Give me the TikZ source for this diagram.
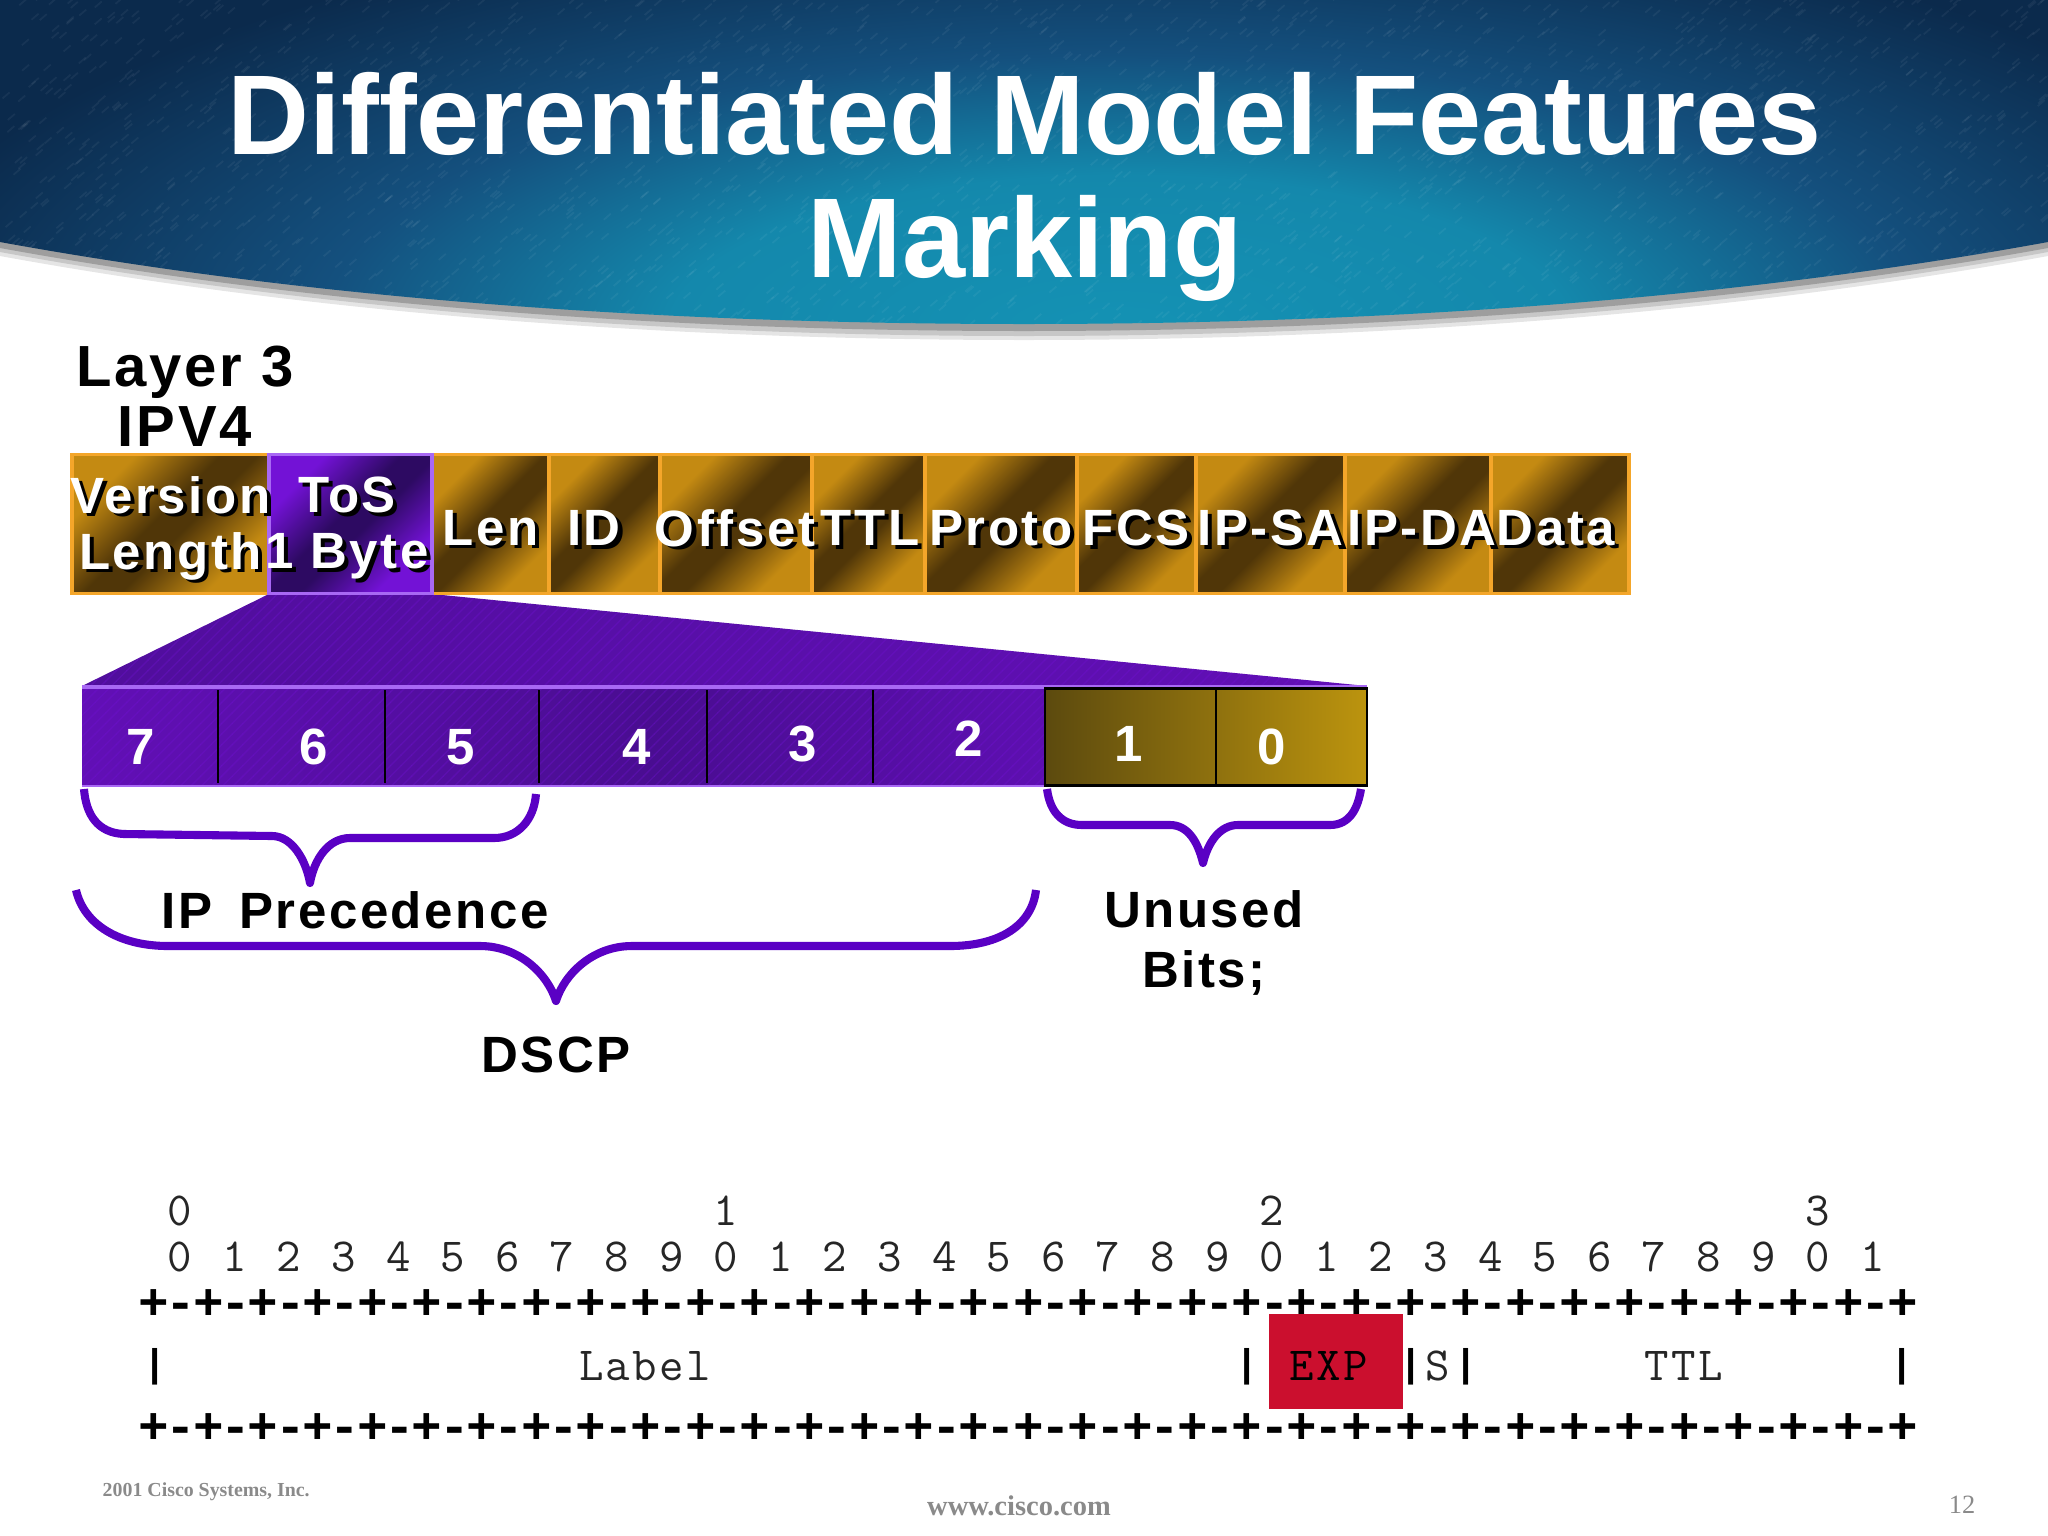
\documentclass[tikz,border=0pt]{standalone}
\usepackage{fontspec}
\usepackage{xcolor}
\usetikzlibrary{patterns}
\setmainfont{Liberation Sans}
\newfontfamily\fieldfont[LetterSpace=5]{Liberation Sans}
\newfontfamily\bitfont[LetterSpace=5]{Latin Modern Mono}
\newfontfamily\digitfont{Latin Modern Mono}
\newfontfamily\ruleffont[LetterSpace=-6.4]{Liberation Mono}
\newfontfamily\pipefont{Liberation Mono}
\newfontfamily\footfont{Liberation Serif}

\definecolor{bannernavy}{HTML}{0B2A4C}
\definecolor{bannermid}{HTML}{14507E}
\definecolor{bannerteal}{HTML}{1492B4}
\definecolor{goldlight}{HTML}{C48A12}
\definecolor{golddark}{HTML}{503608}
\definecolor{goldedge}{HTML}{F4A62A}
\definecolor{oliveleft}{HTML}{5C4A0E}
\definecolor{oliveright}{HTML}{BC940E}
\definecolor{tosbright}{HTML}{7312D6}
\definecolor{tosdark}{HTML}{2D0A62}
\definecolor{tosedge}{HTML}{A868F4}
\definecolor{bracecol}{HTML}{5A00C4}
\definecolor{expred}{HTML}{CB0F2E}
\definecolor{footgrey}{HTML}{8A8A8A}

\pgfdeclareradialshading{bannerglow}{\pgfpointorigin}{
  color(0bp)=(bannerteal); color(4.5bp)=(bannerteal!85!bannermid);
  color(8bp)=(bannermid); color(12.5bp)=(bannernavy); color(100bp)=(bannernavy)}
\pgfdeclarehorizontalshading{goldband}{100bp}{
  color(0bp)=(goldlight); color(28bp)=(goldlight); color(46bp)=(golddark); color(54bp)=(golddark);
  color(72bp)=(goldlight); color(100bp)=(goldlight)}
\pgfdeclarehorizontalshading{tosband}{100bp}{
  color(0bp)=(tosbright); color(28bp)=(tosbright); color(46bp)=(tosdark); color(54bp)=(tosdark);
  color(72bp)=(tosbright); color(100bp)=(tosbright)}
\pgfdeclarehorizontalshading{purplerow}{100bp}{
  color(0bp)=(tosbright); color(25bp)=(tosbright!85!black);
  color(55bp)=(tosdark!60!tosbright); color(85bp)=(tosbright!90!black); color(100bp)=(tosbright)}

\newcommand{\shtxt}[1]{\makebox[0pt]{\hspace{2.4pt}\raisebox{-0.9pt}{\textcolor{black}{#1}}}\makebox[0pt]{\textcolor{white}{#1}}}

\tikzset{
  field/.style={rectangle,draw=goldedge,line width=1pt,inner sep=0pt,shade,shading=goldband,shading angle=-45,
    minimum height=139*0.01cm},
  fieldtxt/.style={inner sep=0pt,align=center,font=\fieldfont\bfseries\fontsize{14.5}{15.9}\selectfont},
  bitnum/.style={inner sep=0pt,font=\fieldfont\bfseries\fontsize{14.5}{16}\selectfont,text=white},
  caption/.style={inner sep=0pt,align=center,font=\fieldfont\bfseries\fontsize{14.5}{17.1}\selectfont},
  brace/.style={draw=bracecol,line width=2.3pt,line cap=butt,line join=round},
  bitdigit/.style={inner sep=0pt,font=\digitfont\fontsize{13.5}{14}\selectfont,text=black!85},
  monotxt/.style={inner sep=0pt,font=\bitfont\fontsize{13.5}{14}\selectfont,text=black!85},
  plusrow/.style={inner sep=0pt,font=\ruleffont\bfseries\fontsize{14.5}{16}\selectfont},
  pipe/.style={inner sep=0pt,font=\pipefont\bfseries\fontsize{11}{12}\selectfont},
  footer/.style={inner sep=0pt,text=footgrey}
}

\begin{document}
\begin{tikzpicture}[x=0.01cm,y=-0.01cm]
  \useasboundingbox (0,0) rectangle (2048,1536);

  % banner
  \fill[black!10] (0,256) .. controls (340,318) and (700,340) .. (1024,340) .. controls (1348,340) and (1708,318) .. (2048,256) -- (2048,240) -- (0,240) -- cycle;
  \fill[black!22] (0,252) .. controls (340,314) and (700,336) .. (1024,336) .. controls (1348,336) and (1708,314) .. (2048,252) -- (2048,240) -- (0,240) -- cycle;
  \fill[black!38] (0,248) .. controls (340,310) and (700,331) .. (1024,331) .. controls (1348,331) and (1708,310) .. (2048,248) -- (2048,240) -- (0,240) -- cycle;
  \begin{scope}
    \clip (0,0) -- (2048,0) -- (2048,242) .. controls (1708,304) and (1348,324) .. (1024,324) .. controls (700,324) and (340,304) .. (0,242) -- cycle;
    \shade[shading=bannerglow] (1120,330) ellipse (2500 and 860);
    \pgfmathsetseed{12}
    \foreach \n in {1,...,2500}{
      \pgfmathsetmacro\px{rnd*2048}
      \pgfmathsetmacro\py{rnd*330}
      \draw[white,opacity=0.05,line width=0.5pt] (\px,\py) -- ++(7,-6);
    }
  \end{scope}
  \node[inner sep=0pt,anchor=base,text=white,font=\bfseries\fontsize{32.25}{36}\selectfont] (titleA) at (1025,154) {Differentiated Model Features};
  \node[inner sep=0pt,anchor=base,text=white,font=\bfseries\fontsize{32.25}{36}\selectfont] (titleB) at (1025,277) {Marking};

  \node[caption,font=\fieldfont\bfseries\fontsize{16.5}{17}\selectfont] (layer) at (185,396) {Layer 3\\IPV4};

  % trapezoid under ToS
  \shade[left color=tosdark!50!tosbright,right color=tosbright!85!black] (269,594) -- (432,594) -- (1367,686) -- (82,686) -- cycle;
  \fill[pattern=north east lines,pattern color=tosbright,opacity=0.3] (269,594) -- (432,594) -- (1367,686) -- (82,686) -- cycle;

  % header fields
  \node[field,minimum width=197*0.01cm] (version) at (170.5,524) {};
  \node[field,minimum width=118*0.01cm] (len) at (490.5,524) {};
  \node[field,minimum width=111*0.01cm] (id) at (604.5,524) {};
  \node[field,minimum width=152*0.01cm] (offset) at (736,524) {};
  \node[field,minimum width=113*0.01cm] (ttl) at (868.5,524) {};
  \node[field,minimum width=152*0.01cm] (proto) at (1001,524) {};
  \node[field,minimum width=119*0.01cm] (fcs) at (1136.5,524) {};
  \node[field,minimum width=149*0.01cm] (ipsa) at (1270.5,524) {};
  \node[field,minimum width=146*0.01cm] (ipda) at (1418,524) {};
  \node[field,minimum width=138*0.01cm] (data) at (1560,524) {};
  \node[field,draw=tosedge,shading=tosband,minimum width=163*0.01cm] (tos) at (350.5,524) {};

  \node[fieldtxt] (versiontxt) at (170.5,530) {\shtxt{Version}\\\shtxt{Length}};
  \node[fieldtxt] (tostxt) at (347,530) {\shtxt{ToS}\\\shtxt{1 Byte}};
  \node[fieldtxt] (lentxt) at (490.5,530) {\shtxt{Len}};
  \node[fieldtxt] (idtxt) at (594,530) {\shtxt{ID}};
  \node[fieldtxt] (offsettxt) at (735,530) {\shtxt{Offset}};
  \node[fieldtxt] (ttltxt) at (870,530) {\shtxt{TTL}};
  \node[fieldtxt] (prototxt) at (1001,530) {\shtxt{Proto}};
  \node[fieldtxt] (fcstxt) at (1136.5,530) {\shtxt{FCS}};
  \node[fieldtxt] (ipsatxt) at (1270.5,530) {\shtxt{IP-SA}};
  \node[fieldtxt] (ipdatxt) at (1422,530) {\shtxt{IP-DA}};
  \node[fieldtxt] (datatxt) at (1556,530) {\shtxt{Data}};

  % bit row
  \node[rectangle,inner sep=0pt,shade,shading=purplerow,minimum width=963*0.01cm,minimum height=98*0.01cm] (dscp) at (563.5,737) {};
  \fill[pattern=north east lines,pattern color=tosbright,opacity=0.3] (82,688) rectangle (1045,786);
  \draw[tosedge,line width=0.9pt] (82,687) -- (1367,687);
  \draw[tosedge,line width=0.5pt] (82,786) -- (1045,786);
  \foreach \x in {218,385,539,707,873}
    \draw[black,line width=0.6pt] (\x,690) -- (\x,783);
  \node[rectangle,draw=black,line width=0.7pt,inner sep=0pt,shade,left color=oliveleft,right color=oliveright,minimum width=322*0.01cm,minimum height=97*0.01cm] (unused) at (1206,737) {};
  \draw[black,line width=0.6pt] (1216,688) -- (1216,786);
  \node[bitnum] (b7) at (141,747) {7};
  \node[bitnum] (b6) at (314,747) {6};
  \node[bitnum] (b5) at (461,747) {5};
  \node[bitnum] (b4) at (637,747) {4};
  \node[bitnum] (b3) at (803,744) {3};
  \node[bitnum] (b2) at (969,739) {2};
  \node[bitnum] (b1) at (1129,744) {1};
  \node[bitnum] (b0) at (1272,747) {0};

  % braces
  \draw[brace] (84,789) .. controls (86,815) and (98,833) .. (124,834) -- (272,836) .. controls (292,836) and (306,860) .. (310,883)
    .. controls (314,860) and (328,838) .. (350,838) -- (494,838) .. controls (518,838) and (534,820) .. (536,794);
  \draw[brace] (1047,789) .. controls (1050,812) and (1062,825) .. (1082,825) -- (1170,825) .. controls (1188,825) and (1198,842) .. (1203,863)
    .. controls (1208,842) and (1220,825) .. (1238,825) -- (1330,825) .. controls (1350,825) and (1358,808) .. (1361,789);
  \draw[brace] (76,890) .. controls (84,925) and (120,946) .. (168,946) -- (480,946) .. controls (520,946) and (548,975) .. (556,1001)
    .. controls (564,975) and (592,946) .. (632,946) -- (950,946) .. controls (1000,946) and (1032,925) .. (1036,890);

  \node[caption] (ipprec) at (355,910) {IP\hspace{3pt} Precedence};
  \node[caption] (unusedbits) at (1204,943) {Unused\\Bits;};
  \node[caption] (dscplabel) at (556,1055) {DSCP};

  % mpls header
  \foreach \t/\n in {0/0,1/10,2/20,3/30}
    \node[bitdigit] (top\t) at ({180+54.6*\n},1211) {\t};
  \foreach \n in {0,...,31}{
    \pgfmathtruncatemacro\d{mod(\n,10)}
    \node[bitdigit] (low\n) at ({180+54.6*\n},1257) {\d};
  }
  \node[plusrow] (ruleA) at (1028.5,1305) {+-+-+-+-+-+-+-+-+-+-+-+-+-+-+-+-+-+-+-+-+-+-+-+-+-+-+-+-+-+-+-+-+};
  \node[plusrow] (ruleB) at (1028.5,1429) {+-+-+-+-+-+-+-+-+-+-+-+-+-+-+-+-+-+-+-+-+-+-+-+-+-+-+-+-+-+-+-+-+};
  \fill[expred] (1269,1314) rectangle (1403,1409);
  \foreach \x/\nm in {155/a,1247/b,1411/c,1466/d,1902/e}
    \node[pipe] (pipe\nm) at (\x,1367) {|};
  \node[monotxt] (label) at (645,1366) {Label};
  \node[monotxt,text=black] (exp) at (1329,1366) {EXP};
  \node[monotxt] (sbit) at (1438,1366) {S};
  \node[monotxt] (ttlbits) at (1684,1366) {TTL};

  % footer
  \node[footer,anchor=base west,font=\footfont\bfseries\fontsize{5.65}{7}\selectfont] (copy) at (102,1496) {2001 Cisco Systems, Inc.};
  \node[footer,font=\footfont\bfseries\fontsize{8.1}{9}\selectfont] (site) at (1019,1506) {www.cisco.com};
  \node[footer,font=\footfont\fontsize{7.5}{8}\selectfont] (page) at (1962,1505) {12};
\end{tikzpicture}
\end{document}
